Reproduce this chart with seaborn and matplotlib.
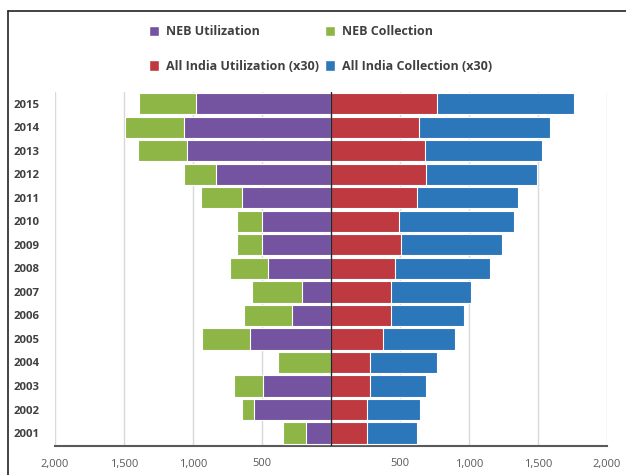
import numpy as np
import pandas as pd
import seaborn as sns
import matplotlib.pyplot as plt
from matplotlib.patches import Patch
from matplotlib.lines import Line2D

# values (All India series already scaled x30)
years = ["2015", "2014", "2013", "2012", "2011", "2010", "2009", "2008",
         "2007", "2006", "2005", "2004", "2003", "2002", "2001"]
neb_util = [975, 1065, 1045, 830, 645, 500, 500, 455, 210, 285, 590, 0, 495, 555, 180]
neb_coll = [415, 430, 355, 235, 300, 180, 180, 280, 365, 345, 345, 385, 205, 90, 165]
india_util = [765, 635, 680, 690, 620, 495, 505, 465, 435, 435, 375, 280, 280, 260, 260]
india_coll = [995, 950, 850, 805, 735, 830, 735, 690, 580, 530, 525, 490, 405, 385, 360]

c_purple = "#7453A0"
c_green = "#8DB646"
c_red = "#BE3A40"
c_blue = "#2C76BA"

df = pd.DataFrame({
    "year": years,
    "neb_util": -np.array(neb_util),
    "neb_total": -(np.array(neb_util) + np.array(neb_coll)),
    "india_util": india_util,
    "india_total": np.array(india_util) + np.array(india_coll),
})

sns.set_style("white")
plt.rcParams["font.family"] = ["Open Sans", "DejaVu Sans"]

fig = plt.figure(figsize=(6.26, 4.75), dpi=100)
ax = fig.add_axes([55 / 626, 1 - 446 / 475, 552 / 626, 354 / 475])

# stacked bars: draw the totals first, the utilization part on top
bar_kw = dict(y="year", order=years, orient="h", width=0.9, saturation=1,
              edgecolor="white", linewidth=0.8, ax=ax, zorder=3)
sns.barplot(data=df, x="neb_total", color=c_green, **bar_kw)
sns.barplot(data=df, x="neb_util", color=c_purple, **bar_kw)
sns.barplot(data=df, x="india_total", color=c_blue, **bar_kw)
sns.barplot(data=df, x="india_util", color=c_red, **bar_kw)

ax.set_xlim(-2000, 2000)
ax.set_ylim(14.55, -0.5)
ticks = np.arange(-2000, 2001, 500)
ax.set_xticks(ticks)
ax.set_xticklabels(["" if t == 0 else f"{abs(t):,}" for t in ticks],
                   fontsize=8, color="#595959")
ax.tick_params(axis="x", length=0, pad=9)
ax.tick_params(axis="y", length=0, pad=11)
for lab in ax.get_yticklabels():
    lab.set_fontweight("bold")
    lab.set_fontsize(8.2)
    lab.set_color("#404040")
ax.set_xlabel("")
ax.set_ylabel("")

for t in ticks:
    if t != 0:
        ax.axvline(t, color="#D9D9D9", lw=1, zorder=1)
ax.axvline(0, color="#262626", lw=1, zorder=4)

for s in ["top", "right", "left"]:
    ax.spines[s].set_visible(False)
ax.spines["bottom"].set_color("#595959")
ax.spines["bottom"].set_linewidth(1.5)

handles = [Patch(facecolor=c_purple), Patch(facecolor=c_red),
           Patch(facecolor=c_green), Patch(facecolor=c_blue)]
labels = ["NEB Utilization", "All India Utilization (x30)",
          "NEB Collection", "All India Collection (x30)"]
leg = fig.legend(handles, labels, ncol=2, loc="upper left",
                 bbox_to_anchor=(138 / 626, 1 - 14 / 475), frameon=False,
                 handlelength=0.75, handleheight=0.95, handletextpad=0.6,
                 columnspacing=0.5, labelspacing=1.7,
                 prop={"weight": "bold", "size": 9})
for txt in leg.get_texts():
    txt.set_color("#404040")

# outer frame lines (top and left)
fig.add_artist(Line2D([8 / 626, 1], [1 - 11 / 475] * 2,
                      transform=fig.transFigure, color="#222222", lw=1.2))
fig.add_artist(Line2D([8 / 626] * 2, [0, 1 - 11 / 475],
                      transform=fig.transFigure, color="#222222", lw=1.2))

fig.savefig("out.png", dpi=100)
